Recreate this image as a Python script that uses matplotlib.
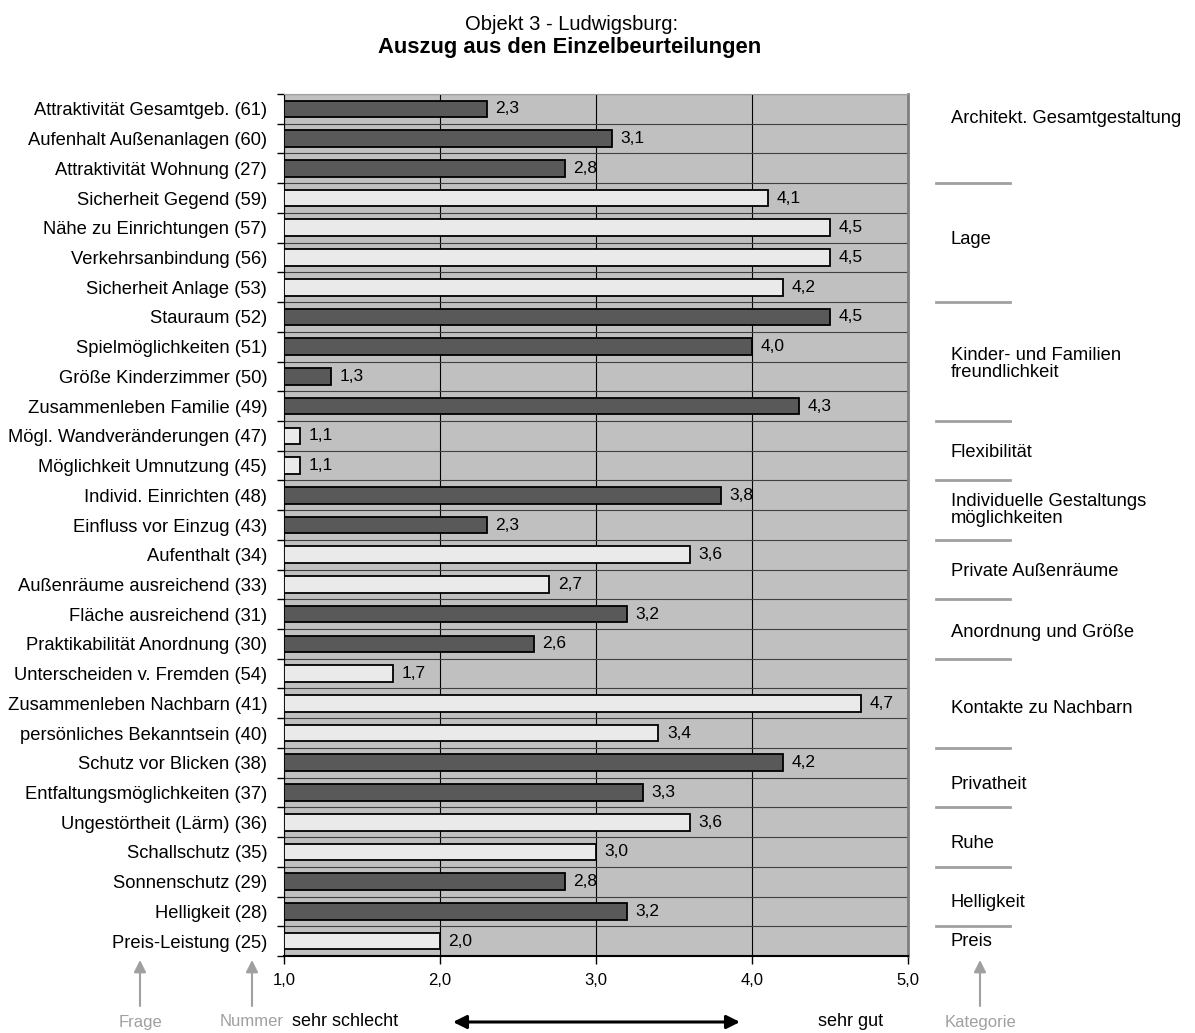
import matplotlib.pyplot as plt
from matplotlib.transforms import blended_transform_factory

plt.rcParams['font.family'] = ['Liberation Sans', 'DejaVu Sans']

# Einzelbeurteilungen: Frage (Nummer), Mittelwert, Balkenfarbe
fragen = [
    "Attraktivität Gesamtgeb. (61)",
    "Aufenhalt Außenanlagen (60)",
    "Attraktivität Wohnung (27)",
    "Sicherheit Gegend (59)",
    "Nähe zu Einrichtungen (57)",
    "Verkehrsanbindung (56)",
    "Sicherheit Anlage (53)",
    "Stauraum (52)",
    "Spielmöglichkeiten (51)",
    "Größe Kinderzimmer (50)",
    "Zusammenleben Familie (49)",
    "Mögl. Wandveränderungen (47)",
    "Möglichkeit Umnutzung (45)",
    "Individ. Einrichten (48)",
    "Einfluss vor Einzug (43)",
    "Aufenthalt (34)",
    "Außenräume ausreichend (33)",
    "Fläche ausreichend (31)",
    "Praktikabilität Anordnung (30)",
    "Unterscheiden v. Fremden (54)",
    "Zusammenleben Nachbarn (41)",
    "persönliches Bekanntsein (40)",
    "Schutz vor Blicken (38)",
    "Entfaltungsmöglichkeiten (37)",
    "Ungestörtheit (Lärm) (36)",
    "Schallschutz (35)",
    "Sonnenschutz (29)",
    "Helligkeit (28)",
    "Preis-Leistung (25)",
]
werte = [2.3, 3.1, 2.8, 4.1, 4.5, 4.5, 4.2, 4.5, 4.0, 1.3, 4.3, 1.1, 1.1, 3.8,
         2.3, 3.6, 2.7, 3.2, 2.6, 1.7, 4.7, 3.4, 4.2, 3.3, 3.6, 3.0, 2.8, 3.2, 2.0]
dunkel = [1, 1, 1, 0, 0, 0, 0, 1, 1, 1, 1, 0, 0, 1, 1, 0, 0, 1, 1, 0, 0, 0, 1, 1,
          0, 0, 1, 1, 0]

kategorien = ["Architekt. Gesamtgestaltung", "Lage",
              "Kinder- und Familien\nfreundlichkeit", "Flexibilität",
              "Individuelle Gestaltungs\nmöglichkeiten", "Private Außenräume",
              "Anordnung und Größe", "Kontakte zu Nachbarn", "Privatheit",
              "Ruhe", "Helligkeit", "Preis"]
kat_anzahl = [3, 4, 4, 2, 2, 2, 2, 3, 2, 2, 2, 1]
kat_versatz = [-0.66, -0.09, 0.08, 0.05, 0.0, 0.08, 0.1, 0.19, 0.22, 0.2, 0.19, 0.0]

W, H = 1195, 1033
fig = plt.figure(figsize=(W / 100, H / 100), dpi=100)
ax = fig.add_axes([284 / W, 1 - 956 / H, 624 / W, 862 / H])
ax.set_facecolor('#C0C0C0')

n = len(fragen)
pos = list(range(n))
farben = ['#595959' if d else '#EAEAEA' for d in dunkel]
ax.barh(pos, [v - 1 for v in werte], left=1, height=0.56, color=farben,
        edgecolor='black', linewidth=1.3, zorder=3)
for y, v in zip(pos, werte):
    ax.text(v + 0.055, y, f"{v:.1f}".replace('.', ','), va='center', ha='left',
            fontsize=12.5, zorder=4)

ax.set_xlim(1, 5)
ax.set_ylim(n - 0.5, -0.5)
ax.set_xticks([1, 2, 3, 4, 5])
ax.set_xticklabels(["1,0", "2,0", "3,0", "4,0", "5,0"], fontsize=12)
ax.tick_params(axis='x', length=6, width=1, pad=6, direction='out')

# Zeilengrenzen als Hauptticks, Beschriftungen als Nebenticks
ax.set_yticks([i - 0.5 for i in range(n + 1)])
ax.set_yticklabels([])
ax.tick_params(axis='y', which='major', length=5, width=1, direction='out')
ax.set_yticks(pos, minor=True)
ax.set_yticklabels(fragen, minor=True, fontsize=13.2)
ax.tick_params(axis='y', which='minor', length=0, pad=12)

ax.set_axisbelow(True)
ax.grid(axis='y', which='major', color='#404040', linewidth=0.8)
ax.grid(axis='x', which='major', color='black', linewidth=0.8)

ax.spines['left'].set_color('black')
ax.spines['bottom'].set_color('black')
ax.spines['bottom'].set_linewidth(1.5)
ax.spines['top'].set_color('#A0A0A0')
ax.spines['right'].set_color('#808080')
ax.spines['right'].set_linewidth(2)

# Kategorien rechts neben dem Diagramm
trans = blended_transform_factory(fig.transFigure, ax.transData)
start = 0
for name, anz, dv in zip(kategorien, kat_anzahl, kat_versatz):
    mitte = start + (anz - 1) / 2 + dv
    ax.text(951 / W, mitte, name, transform=trans, ha='left', va='center',
            fontsize=13.2, linespacing=0.95, clip_on=False)
    start += anz
    if start < n:
        ax.plot([936 / W, 1010 / W], [start - 0.5, start - 0.5], transform=trans,
                color='#A0A0A0', linewidth=2, clip_on=False)

# Titel
fig.text(572 / W, 1 - 24 / H, "Objekt 3 - Ludwigsburg:", ha='center', va='center',
         fontsize=14.5)
fig.text(570 / W, 1 - 47 / H, "Auszug aus den Einzelbeurteilungen", ha='center',
         va='center', fontsize=15.8, fontweight='bold')

# Legende unter der Achse
grau = '#A0A0A0'
yt = 1 - 1022 / H
for x, txt in [(140, "Frage"), (252, "Nummer"), (980, "Kategorie")]:
    fig.text(x / W, yt, txt, ha='center', va='center', fontsize=12, color=grau)
    ax.annotate('', xy=(x / W, 1 - 960 / H), xytext=(x / W, 1 - 1006 / H),
                xycoords='figure fraction', textcoords='figure fraction',
                arrowprops=dict(arrowstyle='-|>', color=grau, lw=1.5,
                                mutation_scale=18, shrinkA=0, shrinkB=0))
fig.text(292 / W, yt, "sehr schlecht", ha='left', va='center', fontsize=13)
fig.text(851 / W, yt, "sehr gut", ha='center', va='center', fontsize=13)
ax.annotate('', xy=(453 / W, yt), xytext=(740 / W, yt),
            xycoords='figure fraction', textcoords='figure fraction',
            arrowprops=dict(arrowstyle='<|-|>', color='black', lw=2.2,
                            mutation_scale=20, shrinkA=0, shrinkB=0))

fig.savefig('out.png', dpi=100)
